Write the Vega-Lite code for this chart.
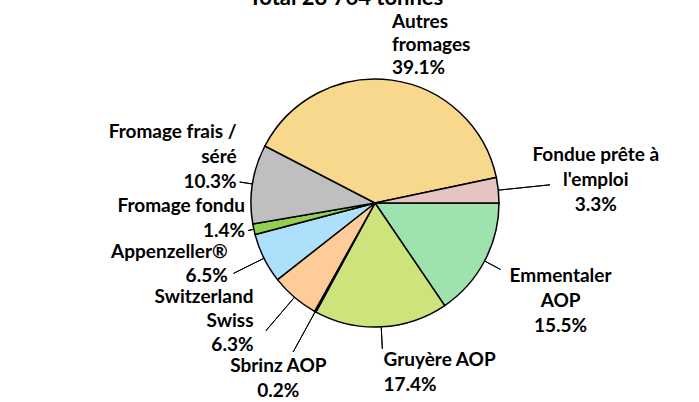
{
  "$schema": "https://vega.github.io/schema/vega-lite/v6.json",
  "width": 648,
  "height": 398,
  "autosize": "none",
  "padding": {"left": 51, "top": 4, "right": 0, "bottom": 0},
  "background": "white",
  "title": {"text": "Total 28 764 tonnes", "font": "Lato", "fontSize": 22, "fontWeight": "bold", "color": "#000000", "anchor": "middle", "frame": "group", "dx": -29, "baseline": "alphabetic", "offset": -23},
  "config": {
    "view": {"stroke": null},
    "text": {"font": "Lato", "fontSize": 19, "fontWeight": "bold", "color": "#000000", "lineHeight": 25, "lineBreak": "\n"},
    "arc": {"stroke": "#000000"}
  },
  "data": {"values": [
    {"rang": 1, "fromage": "Emmentaler AOP", "part": 15.5, "etiquette": "Emmentaler\nAOP\n15.5%"},
    {"rang": 2, "fromage": "Gruyère AOP", "part": 17.4, "etiquette": "Gruyère AOP\n17.4%"},
    {"rang": 3, "fromage": "Sbrinz AOP", "part": 0.2, "etiquette": "Sbrinz AOP\n0.2%"},
    {"rang": 4, "fromage": "Switzerland Swiss", "part": 6.3, "etiquette": "Switzerland\nSwiss\n6.3%"},
    {"rang": 5, "fromage": "Appenzeller®", "part": 6.5, "etiquette": "Appenzeller®\n6.5%"},
    {"rang": 6, "fromage": "Fromage fondu", "part": 1.4, "etiquette": "Fromage fondu\n1.4%"},
    {"rang": 7, "fromage": "Fromage frais / séré", "part": 10.3, "etiquette": "Fromage frais /\nséré\n10.3%"},
    {"rang": 8, "fromage": "Autres fromages", "part": 39.1, "etiquette": "Autres\nfromages\n39.1%"},
    {"rang": 9, "fromage": "Fondue prête à l'emploi", "part": 3.3, "etiquette": "Fondue prête à\nl'emploi\n3.3%"}
  ]},
  "transform": [
    {"stack": "part", "groupby": [], "sort": [{"field": "rang", "order": "ascending"}], "as": ["p0", "p1"]},
    {"fold": ["p0", "p1"], "as": ["borne", "angle"]},
    {"aggregate": [
      {"op": "mean", "field": "angle", "as": "mid"},
      {"op": "min", "field": "angle", "as": "debut"},
      {"op": "max", "field": "angle", "as": "fin"}
    ], "groupby": ["rang", "fromage", "etiquette", "part"]}
  ],
  "layer": [
    {
      "mark": {"type": "arc", "outerRadius": 124, "stroke": "#000000", "strokeWidth": 1.5},
      "encoding": {
        "theta": {"field": "debut", "type": "quantitative", "scale": {"domain": [0, 100], "range": [1.5707963, 7.8539816]}},
        "theta2": {"field": "fin"},
        "color": {"field": "fromage", "type": "nominal", "legend": null,
          "scale": {
            "domain": ["Emmentaler AOP", "Gruyère AOP", "Sbrinz AOP", "Switzerland Swiss", "Appenzeller®", "Fromage fondu", "Fromage frais / séré", "Autres fromages", "Fondue prête à l'emploi"],
            "range": ["#9ee3ae", "#cde47c", "#f4b183", "#ffcc99", "#ade1fb", "#92d050", "#bfbfbf", "#f8d88c", "#e6c4c2"]
          }}
      }
    },
    {
      "transform": [{"filter": {"field": "fromage", "oneOf": ["Fromage fondu"]}}],
      "mark": {"type": "arc", "innerRadius": 124, "outerRadius": 130, "fillOpacity": 0, "stroke": "#000000", "strokeWidth": 1},
      "encoding": {"theta": {"field": "mid", "type": "quantitative"}, "theta2": {"field": "mid"}}
    },
    {
      "transform": [{"filter": {"field": "fromage", "oneOf": ["Fromage frais / séré"]}}],
      "mark": {"type": "arc", "innerRadius": 124, "outerRadius": 137, "fillOpacity": 0, "stroke": "#000000", "strokeWidth": 1},
      "encoding": {"theta": {"field": "mid", "type": "quantitative"}, "theta2": {"field": "mid"}}
    },
    {
      "transform": [{"filter": {"field": "fromage", "oneOf": ["Emmentaler AOP"]}}],
      "mark": {"type": "arc", "innerRadius": 124, "outerRadius": 142, "fillOpacity": 0, "stroke": "#000000", "strokeWidth": 1},
      "encoding": {"theta": {"field": "mid", "type": "quantitative"}, "theta2": {"field": "mid"}}
    },
    {
      "transform": [{"filter": {"field": "fromage", "oneOf": ["Gruyère AOP"]}}],
      "mark": {"type": "arc", "innerRadius": 124, "outerRadius": 146, "fillOpacity": 0, "stroke": "#000000", "strokeWidth": 1},
      "encoding": {"theta": {"field": "mid", "type": "quantitative"}, "theta2": {"field": "mid"}}
    },
    {
      "transform": [{"filter": {"field": "fromage", "oneOf": ["Sbrinz AOP"]}}],
      "mark": {"type": "arc", "innerRadius": 124, "outerRadius": 170, "fillOpacity": 0, "stroke": "#000000", "strokeWidth": 1},
      "encoding": {"theta": {"field": "mid", "type": "quantitative"}, "theta2": {"field": "mid"}}
    },
    {
      "transform": [{"filter": {"field": "fromage", "oneOf": ["Switzerland Swiss"]}}],
      "mark": {"type": "arc", "innerRadius": 124, "outerRadius": 168, "fillOpacity": 0, "stroke": "#000000", "strokeWidth": 1},
      "encoding": {"theta": {"field": "mid", "type": "quantitative"}, "theta2": {"field": "mid"}}
    },
    {
      "transform": [{"filter": {"field": "fromage", "oneOf": ["Appenzeller®"]}}],
      "mark": {"type": "arc", "innerRadius": 124, "outerRadius": 158, "fillOpacity": 0, "stroke": "#000000", "strokeWidth": 1},
      "encoding": {"theta": {"field": "mid", "type": "quantitative"}, "theta2": {"field": "mid"}}
    },
    {
      "transform": [{"filter": {"field": "fromage", "oneOf": ["Fondue prête à l'emploi"]}}],
      "mark": {"type": "arc", "innerRadius": 124, "outerRadius": 176, "fillOpacity": 0, "stroke": "#000000", "strokeWidth": 1},
      "encoding": {"theta": {"field": "mid", "type": "quantitative"}, "theta2": {"field": "mid"}}
    },
    {
      "transform": [{"filter": {"field": "fromage", "oneOf": ["Autres fromages"]}}],
      "mark": {"type": "text", "radius": 126, "align": "left", "baseline": "bottom", "dy": -46, "lineHeight": 23},
      "encoding": {"theta": {"field": "mid", "type": "quantitative"}, "text": {"field": "etiquette"}}
    },
    {
      "transform": [{"filter": {"field": "fromage", "oneOf": ["Fondue prête à l'emploi"]}}],
      "mark": {"type": "text", "radius": 222, "align": "center", "baseline": "middle", "dy": -25},
      "encoding": {"theta": {"field": "mid", "type": "quantitative"}, "text": {"field": "etiquette"}}
    },
    {
      "transform": [{"filter": {"field": "fromage", "oneOf": ["Emmentaler AOP"]}}],
      "mark": {"type": "text", "radius": 210, "align": "center", "baseline": "middle", "dy": -25},
      "encoding": {"theta": {"field": "mid", "type": "quantitative"}, "text": {"field": "etiquette"}}
    },
    {
      "transform": [{"filter": {"field": "fromage", "oneOf": ["Gruyère AOP"]}}],
      "mark": {"type": "text", "radius": 170, "align": "left", "baseline": "middle", "dy": -12.5},
      "encoding": {"theta": {"field": "mid", "type": "quantitative"}, "text": {"field": "etiquette"}}
    },
    {
      "transform": [{"filter": {"field": "fromage", "oneOf": ["Sbrinz AOP"]}}],
      "mark": {"type": "text", "radius": 200.6, "align": "center", "baseline": "middle", "dy": -12.5},
      "encoding": {"theta": {"field": "mid", "type": "quantitative"}, "text": {"field": "etiquette"}}
    },
    {
      "transform": [{"filter": {"field": "fromage", "oneOf": ["Switzerland Swiss"]}}],
      "mark": {"type": "text", "radius": 187.1, "align": "right", "baseline": "middle", "dy": -48, "lineHeight": 24},
      "encoding": {"theta": {"field": "mid", "type": "quantitative"}, "text": {"field": "etiquette"}}
    },
    {
      "transform": [{"filter": {"field": "fromage", "oneOf": ["Appenzeller®"]}}],
      "mark": {"type": "text", "radius": 164.5, "align": "right", "baseline": "middle", "dy": -24, "lineHeight": 24},
      "encoding": {"theta": {"field": "mid", "type": "quantitative"}, "text": {"field": "etiquette"}}
    },
    {
      "transform": [{"filter": {"field": "fromage", "oneOf": ["Fromage fondu"]}}],
      "mark": {"type": "text", "radius": 133, "align": "right", "baseline": "middle", "dy": -25},
      "encoding": {"theta": {"field": "mid", "type": "quantitative"}, "text": {"field": "etiquette"}}
    },
    {
      "transform": [{"filter": {"field": "fromage", "oneOf": ["Fromage frais / séré"]}}],
      "mark": {"type": "text", "radius": 140, "align": "right", "baseline": "middle", "dy": -50},
      "encoding": {"theta": {"field": "mid", "type": "quantitative"}, "text": {"field": "etiquette"}}
    }
  ]
}
